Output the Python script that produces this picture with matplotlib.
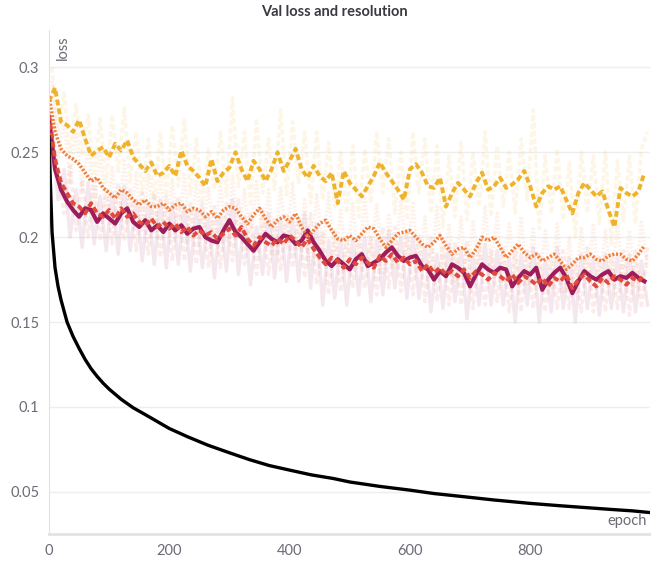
import matplotlib
matplotlib.use('Agg')
import matplotlib.pyplot as plt
import numpy as np

plt.rcParams['font.family'] = ['Lato', 'DejaVu Sans']

# smoothed runs, sampled every 10 epochs
epochs = list(range(0, 1000, 10))

yellow = [0.280, 0.288, 0.268, 0.266, 0.262, 0.269, 0.258, 0.248, 0.251, 0.253,
          0.247, 0.255, 0.251, 0.257, 0.247, 0.243, 0.239, 0.244, 0.236, 0.238,
          0.242, 0.236, 0.251, 0.242, 0.239, 0.235, 0.230, 0.246, 0.233, 0.238,
          0.241, 0.250, 0.240, 0.233, 0.245, 0.240, 0.233, 0.240, 0.250, 0.239,
          0.245, 0.252, 0.240, 0.235, 0.242, 0.236, 0.233, 0.238, 0.220, 0.239,
          0.232, 0.228, 0.224, 0.230, 0.236, 0.244, 0.238, 0.233, 0.228, 0.222,
          0.240, 0.243, 0.238, 0.230, 0.229, 0.235, 0.218, 0.226, 0.232, 0.228,
          0.224, 0.232, 0.238, 0.228, 0.230, 0.235, 0.229, 0.231, 0.234, 0.239,
          0.230, 0.218, 0.226, 0.230, 0.228, 0.230, 0.222, 0.214, 0.226, 0.232,
          0.228, 0.224, 0.227, 0.216, 0.206, 0.229, 0.226, 0.224, 0.227, 0.238]

crimson = [0.270, 0.240, 0.228, 0.221, 0.216, 0.212, 0.217, 0.216, 0.209, 0.214,
           0.211, 0.208, 0.214, 0.217, 0.209, 0.206, 0.210, 0.204, 0.207, 0.203,
           0.208, 0.204, 0.207, 0.202, 0.205, 0.206, 0.200, 0.198, 0.197, 0.204,
           0.210, 0.203, 0.200, 0.196, 0.192, 0.197, 0.202, 0.199, 0.197, 0.201,
           0.200, 0.196, 0.198, 0.204, 0.197, 0.192, 0.186, 0.183, 0.187, 0.184,
           0.181, 0.187, 0.190, 0.183, 0.185, 0.187, 0.191, 0.194, 0.189, 0.186,
           0.188, 0.189, 0.183, 0.181, 0.175, 0.180, 0.177, 0.184, 0.182, 0.179,
           0.171, 0.178, 0.184, 0.181, 0.179, 0.182, 0.181, 0.171, 0.176, 0.180,
           0.178, 0.182, 0.169, 0.175, 0.179, 0.182, 0.176, 0.167, 0.174, 0.180,
           0.177, 0.175, 0.178, 0.180, 0.175, 0.177, 0.176, 0.179, 0.176, 0.174]

red = [0.272, 0.246, 0.232, 0.226, 0.220, 0.218, 0.214, 0.220, 0.214, 0.212,
       0.216, 0.211, 0.217, 0.212, 0.214, 0.209, 0.207, 0.211, 0.206, 0.209,
       0.205, 0.208, 0.203, 0.206, 0.201, 0.204, 0.201, 0.203, 0.199, 0.202,
       0.205, 0.201, 0.206, 0.199, 0.195, 0.200, 0.197, 0.195, 0.199, 0.196,
       0.201, 0.198, 0.194, 0.199, 0.193, 0.188, 0.184, 0.188, 0.186, 0.182,
       0.187, 0.184, 0.188, 0.185, 0.182, 0.189, 0.186, 0.190, 0.185, 0.188,
       0.184, 0.186, 0.180, 0.184, 0.179, 0.182, 0.178, 0.180, 0.177, 0.181,
       0.176, 0.180, 0.178, 0.175, 0.179, 0.177, 0.174, 0.178, 0.173, 0.177,
       0.175, 0.172, 0.176, 0.171, 0.176, 0.174, 0.178, 0.170, 0.175, 0.178,
       0.174, 0.171, 0.176, 0.173, 0.177, 0.175, 0.172, 0.176, 0.174, 0.178]

orange = [0.283, 0.262, 0.252, 0.248, 0.246, 0.243, 0.238, 0.233, 0.235, 0.229,
          0.226, 0.223, 0.228, 0.226, 0.222, 0.219, 0.222, 0.218, 0.218, 0.220,
          0.216, 0.219, 0.220, 0.215, 0.217, 0.216, 0.212, 0.215, 0.211, 0.216,
          0.218, 0.217, 0.212, 0.208, 0.213, 0.217, 0.211, 0.206, 0.210, 0.212,
          0.209, 0.214, 0.206, 0.200, 0.204, 0.208, 0.210, 0.204, 0.199, 0.198,
          0.201, 0.198, 0.202, 0.206, 0.205, 0.199, 0.194, 0.198, 0.202, 0.203,
          0.204, 0.200, 0.196, 0.194, 0.197, 0.201, 0.195, 0.190, 0.193, 0.194,
          0.188, 0.193, 0.200, 0.198, 0.200, 0.194, 0.188, 0.192, 0.196, 0.191,
          0.188, 0.190, 0.186, 0.188, 0.190, 0.186, 0.181, 0.184, 0.188, 0.188,
          0.190, 0.187, 0.186, 0.189, 0.190, 0.190, 0.187, 0.186, 0.190, 0.195]

# raw (unsmoothed) runs, sampled at the epochs in between
raw_epochs = list(range(5, 1000, 10))

yellow_raw = [0.300, 0.262, 0.285, 0.250, 0.278, 0.248, 0.272, 0.236, 0.270, 0.232,
              0.272, 0.238, 0.276, 0.232, 0.262, 0.226, 0.258, 0.222, 0.262, 0.224,
              0.266, 0.230, 0.270, 0.225, 0.258, 0.220, 0.252, 0.228, 0.262, 0.224,
              0.282, 0.230, 0.262, 0.218, 0.270, 0.226, 0.258, 0.228, 0.275, 0.225,
              0.268, 0.232, 0.262, 0.220, 0.262, 0.222, 0.256, 0.218, 0.250, 0.214,
              0.254, 0.212, 0.252, 0.220, 0.262, 0.226, 0.258, 0.214, 0.250, 0.210,
              0.262, 0.226, 0.258, 0.214, 0.254, 0.206, 0.248, 0.212, 0.256, 0.210,
              0.250, 0.218, 0.262, 0.212, 0.254, 0.218, 0.250, 0.214, 0.258, 0.222,
              0.275, 0.205, 0.248, 0.214, 0.252, 0.210, 0.244, 0.200, 0.250, 0.214,
              0.248, 0.208, 0.250, 0.196, 0.245, 0.210, 0.248, 0.208, 0.252, 0.262]

crimson_raw = [0.258, 0.222, 0.240, 0.200, 0.228, 0.194, 0.232, 0.196, 0.224, 0.192,
               0.226, 0.190, 0.230, 0.192, 0.222, 0.186, 0.220, 0.184, 0.222, 0.182,
               0.220, 0.184, 0.218, 0.180, 0.216, 0.182, 0.212, 0.176, 0.212, 0.180,
               0.222, 0.178, 0.212, 0.172, 0.206, 0.178, 0.214, 0.176, 0.210, 0.174,
               0.212, 0.174, 0.214, 0.170, 0.208, 0.160, 0.198, 0.164, 0.198, 0.160,
               0.198, 0.166, 0.200, 0.162, 0.198, 0.166, 0.204, 0.170, 0.200, 0.164,
               0.200, 0.164, 0.194, 0.156, 0.190, 0.158, 0.196, 0.162, 0.192, 0.152,
               0.190, 0.160, 0.196, 0.160, 0.192, 0.160, 0.188, 0.150, 0.190, 0.160,
               0.194, 0.150, 0.186, 0.156, 0.194, 0.158, 0.188, 0.150, 0.190, 0.158,
               0.188, 0.154, 0.190, 0.158, 0.188, 0.156, 0.190, 0.156, 0.186, 0.160]

red_raw = [0.262, 0.236, 0.214, 0.242, 0.204, 0.234, 0.200, 0.236, 0.198, 0.230,
           0.196, 0.232, 0.198, 0.228, 0.192, 0.226, 0.190, 0.226, 0.188, 0.224,
           0.186, 0.224, 0.186, 0.220, 0.184, 0.220, 0.182, 0.218, 0.182, 0.220,
           0.186, 0.222, 0.184, 0.214, 0.178, 0.216, 0.178, 0.212, 0.180, 0.214,
           0.182, 0.212, 0.176, 0.214, 0.172, 0.204, 0.166, 0.204, 0.168, 0.200,
           0.170, 0.202, 0.170, 0.200, 0.166, 0.206, 0.170, 0.206, 0.168, 0.204,
           0.166, 0.202, 0.162, 0.200, 0.162, 0.198, 0.160, 0.196, 0.160, 0.198,
           0.158, 0.196, 0.160, 0.192, 0.162, 0.194, 0.156, 0.194, 0.156, 0.192,
           0.158, 0.190, 0.156, 0.188, 0.158, 0.192, 0.158, 0.186, 0.156, 0.194,
           0.156, 0.188, 0.156, 0.190, 0.158, 0.192, 0.154, 0.192, 0.158, 0.194]

orange_raw = [0.292, 0.246, 0.268, 0.232, 0.262, 0.228, 0.254, 0.218, 0.250, 0.212,
              0.242, 0.208, 0.246, 0.208, 0.238, 0.204, 0.238, 0.202, 0.236, 0.204,
              0.234, 0.200, 0.238, 0.198, 0.234, 0.198, 0.230, 0.196, 0.232, 0.198,
              0.236, 0.200, 0.228, 0.192, 0.234, 0.196, 0.228, 0.190, 0.230, 0.194,
              0.232, 0.192, 0.222, 0.184, 0.226, 0.190, 0.226, 0.184, 0.216, 0.180,
              0.220, 0.182, 0.224, 0.186, 0.220, 0.178, 0.214, 0.182, 0.222, 0.186,
              0.220, 0.180, 0.212, 0.178, 0.218, 0.180, 0.208, 0.174, 0.212, 0.172,
              0.210, 0.178, 0.218, 0.180, 0.214, 0.174, 0.208, 0.176, 0.212, 0.172,
              0.206, 0.172, 0.204, 0.170, 0.208, 0.168, 0.200, 0.166, 0.206, 0.172,
              0.208, 0.170, 0.204, 0.172, 0.208, 0.172, 0.204, 0.170, 0.210, 0.182]

# the black run
black_epochs = [0, 2, 5, 10, 15, 20, 30, 40, 50, 60, 70, 80, 90, 100, 120, 140, 160,
                180, 200, 230, 264, 300, 333, 366, 400, 436, 472, 500, 550, 600, 640,
                680, 740, 800, 850, 889, 940, 970, 999]
black = [0.259, 0.235, 0.203, 0.182, 0.171, 0.163, 0.150, 0.1415, 0.1345, 0.128,
         0.1225, 0.118, 0.114, 0.1105, 0.1045, 0.0995, 0.0955, 0.0914, 0.0873,
         0.0825, 0.0775, 0.073, 0.069, 0.0655, 0.0628, 0.060, 0.0579, 0.0558,
         0.0532, 0.051, 0.049, 0.0475, 0.0452, 0.0432, 0.0418, 0.0408, 0.0395,
         0.0388, 0.0378]

c_yellow = '#efb22b'
c_orange = '#ef7f3a'
c_red = '#e0493c'
c_crimson = '#9d1d5b'

fig = plt.figure(figsize=(6.51, 5.67), dpi=100)
ax = fig.add_axes([0.0753, 0.058, 0.923, 0.889])

# faint raw lines
ax.plot(raw_epochs, yellow_raw, color=c_yellow, alpha=0.12, lw=2.5, ls=(0, (1.5, 0.8)))
ax.plot(raw_epochs, orange_raw, color=c_orange, alpha=0.1, lw=2.5, ls=(0, (0.6, 0.5)))
ax.plot(raw_epochs, red_raw, color=c_red, alpha=0.1, lw=2.5, ls=(0, (1.5, 0.8)))
ax.plot(raw_epochs, crimson_raw, color=c_crimson, alpha=0.1, lw=2.5)

ax.plot(epochs, yellow, color=c_yellow, lw=2.8, ls=(0, (1.5, 0.8)))
ax.plot(epochs, crimson, color=c_crimson, lw=3)
ax.plot(epochs, orange, color=c_orange, lw=2.5, ls=(0, (0.6, 0.5)))
ax.plot(epochs, red, color=c_red, lw=2.8, ls=(0, (1.5, 0.8)))
ax.plot(black_epochs, black, color='black', lw=2.4)

ax.set_xlim(0, 999)
ax.set_ylim(0.0251, 0.322)
ax.set_xticks([0, 200, 400, 600, 800])
ax.set_yticks([0.05, 0.1, 0.15, 0.2, 0.25, 0.3])
ax.set_yticklabels(['0.05', '0.1', '0.15', '0.2', '0.25', '0.3'])
ax.tick_params(length=0, labelsize=10.5, labelcolor='#6b6b76', pad=7)
ax.grid(axis='y', color='#eeeeee', lw=1)
ax.set_axisbelow(True)
for s in ['top', 'right']:
    ax.spines[s].set_visible(False)
ax.spines['left'].set_color('#e2e2e2')
ax.spines['bottom'].set_color('#e2e2e2')
ax.spines['bottom'].set_linewidth(2)

ax.text(0.012, 0.99, 'loss', transform=ax.transAxes, rotation=90, ha='left', va='top',
        fontsize=10.5, color='#6b6b76')
ax.text(0.995, 0.012, 'epoch', transform=ax.transAxes, ha='right', va='bottom',
        fontsize=10.5, color='#6b6b76')
fig.text(0.513, 0.978, 'Val loss and resolution', ha='center', va='center',
         fontsize=10.5, fontweight='bold', color='#3a3a42')

fig.savefig('out.png', dpi=100)
